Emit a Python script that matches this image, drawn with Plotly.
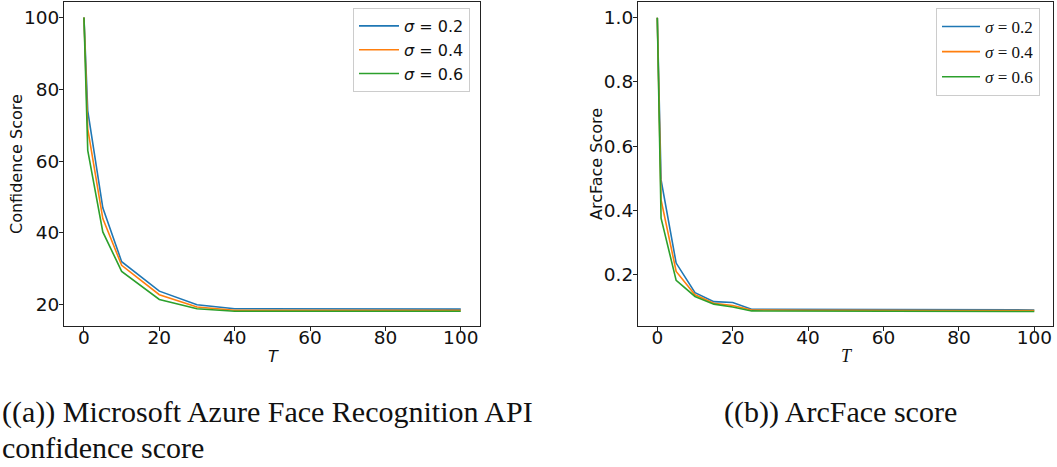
import plotly.graph_objects as go

# ---------------- data ----------------
T_a = [0, 1, 5, 10, 20, 30, 40, 50, 60, 70, 80, 90, 100]
azure_s02 = [100, 74.0, 47.0, 32.0, 23.8, 20.0, 18.9, 18.9, 18.9, 18.8, 18.8, 18.8, 18.8]
azure_s04 = [100, 69.0, 44.0, 31.0, 22.8, 19.4, 18.5, 18.5, 18.5, 18.5, 18.5, 18.5, 18.5]
azure_s06 = [100, 63.0, 40.3, 29.3, 21.5, 18.9, 18.2, 18.2, 18.2, 18.2, 18.2, 18.2, 18.2]

T_b = [0, 1, 5, 10, 15, 20, 25, 30, 40, 50, 60, 70, 80, 90, 100]
arc_s02 = [1.0, 0.495, 0.236, 0.144, 0.116, 0.113, 0.092, 0.092, 0.092, 0.092, 0.091, 0.091, 0.090, 0.090, 0.090]
arc_s04 = [1.0, 0.433, 0.210, 0.137, 0.111, 0.104, 0.090, 0.089, 0.089, 0.089, 0.088, 0.088, 0.088, 0.088, 0.088]
arc_s06 = [1.0, 0.376, 0.182, 0.132, 0.108, 0.099, 0.087, 0.087, 0.087, 0.087, 0.086, 0.086, 0.086, 0.085, 0.085]

sigma_labels = ["0.2", "0.4", "0.6"]
colors = ["#1f77b4", "#ff7f0e", "#2ca02c"]
x_ticks = [0, 20, 40, 60, 80, 100]
ya_ticks = [20, 40, 60, 80, 100]
yb_ticks = [0.2, 0.4, 0.6, 0.8, 1.0]

W, H = 1057, 467
SANS = "DejaVu Sans"
SERIF = "Liberation Serif"

fig = go.Figure()

for lab, ys, c in zip(sigma_labels, [azure_s02, azure_s04, azure_s06], colors):
    fig.add_trace(go.Scatter(x=T_a, y=ys, mode="lines", name=f"<i>σ</i> = {lab}",
                             line=dict(color=c, width=1.6), xaxis="x", yaxis="y",
                             legend="legend"))
for lab, ys, c in zip(sigma_labels, [arc_s02, arc_s04, arc_s06], colors):
    fig.add_trace(go.Scatter(x=T_b, y=ys, mode="lines", name=f"<i>σ</i> = {lab}",
                             line=dict(color=c, width=1.6), xaxis="x2", yaxis="y2",
                             legend="legend2"))

def px_x(p):
    return p / W

def px_y(p):
    return 1 - p / H

ydom = [px_y(326), px_y(2)]
axis_common = dict(showgrid=False, zeroline=False, showline=True, linecolor="#222",
                   linewidth=1.2, mirror=True, ticks="outside", ticklen=4, tickwidth=1,
                   tickcolor="#222", tickfont=dict(family=SANS, size=18.5, color="#111"),
                   automargin=False)
x_extra = dict(ticklabelstandoff=-9)
y_extra = dict(ticklabelstandoff=-4)

fig.update_layout(
    width=W, height=H,
    margin=dict(l=0, r=0, t=0, b=0),
    paper_bgcolor="white", plot_bgcolor="white",
    xaxis=dict(domain=[px_x(64), px_x(480)], range=[-5.3, 105.1], tickvals=x_ticks,
               anchor="y", **axis_common, **x_extra),
    yaxis=dict(domain=ydom, range=[14.1, 104.3], tickvals=ya_ticks, anchor="x",
               **axis_common, **y_extra),
    xaxis2=dict(domain=[px_x(638), px_x(1053)], range=[-5.12, 104.96], tickvals=x_ticks,
                anchor="y2", **axis_common, **x_extra),
    yaxis2=dict(domain=ydom, range=[0.040, 1.049], tickvals=yb_ticks, tickformat=".1f",
                anchor="x2", **axis_common, **y_extra),
    legend=dict(x=px_x(353), y=px_y(8), xanchor="left", yanchor="top",
                bgcolor="white", bordercolor="#cccccc", borderwidth=1,
                font=dict(family=SANS, size=16, color="#111"), tracegroupgap=0,
                itemwidth=40),
    legend2=dict(x=px_x(936), y=px_y(8), xanchor="left", yanchor="top",
                 bgcolor="white", bordercolor="#cccccc", borderwidth=1,
                 font=dict(family=SERIF, size=17, color="#111"), tracegroupgap=0,
                 itemwidth=38),
    showlegend=True,
)

annotations = [
    dict(text="Confidence Score", x=px_x(16), y=px_y(164), textangle=-90,
         font=dict(family=SANS, size=16, color="#111")),
    dict(text="ArcFace Score", x=px_x(596), y=px_y(164), textangle=-90,
         font=dict(family=SANS, size=16, color="#111")),
    dict(text="<i>T</i>", x=px_x(273), y=px_y(356),
         font=dict(family=SANS, size=16, color="#111")),
    dict(text="<i>T</i>", x=px_x(847), y=px_y(356),
         font=dict(family=SERIF, size=18, color="#111")),
    dict(text="((a)) Microsoft Azure Face Recognition API", x=0, y=px_y(412),
         xanchor="left", font=dict(family=SERIF, size=30, color="#111")),
    dict(text="confidence score", x=0, y=px_y(447),
         xanchor="left", font=dict(family=SERIF, size=30, color="#111")),
    dict(text="((b)) ArcFace score", x=px_x(722), y=px_y(412),
         xanchor="left", font=dict(family=SERIF, size=30, color="#111")),
]
for a in annotations:
    a.update(xref="paper", yref="paper", showarrow=False, yanchor="middle")
    a.setdefault("xanchor", "center")
fig.update_layout(annotations=annotations)

fig.write_html("out.html", config={"displayModeBar": False},
               post_script="document.body.style.margin='0';document.body.style.overflow='hidden';")
